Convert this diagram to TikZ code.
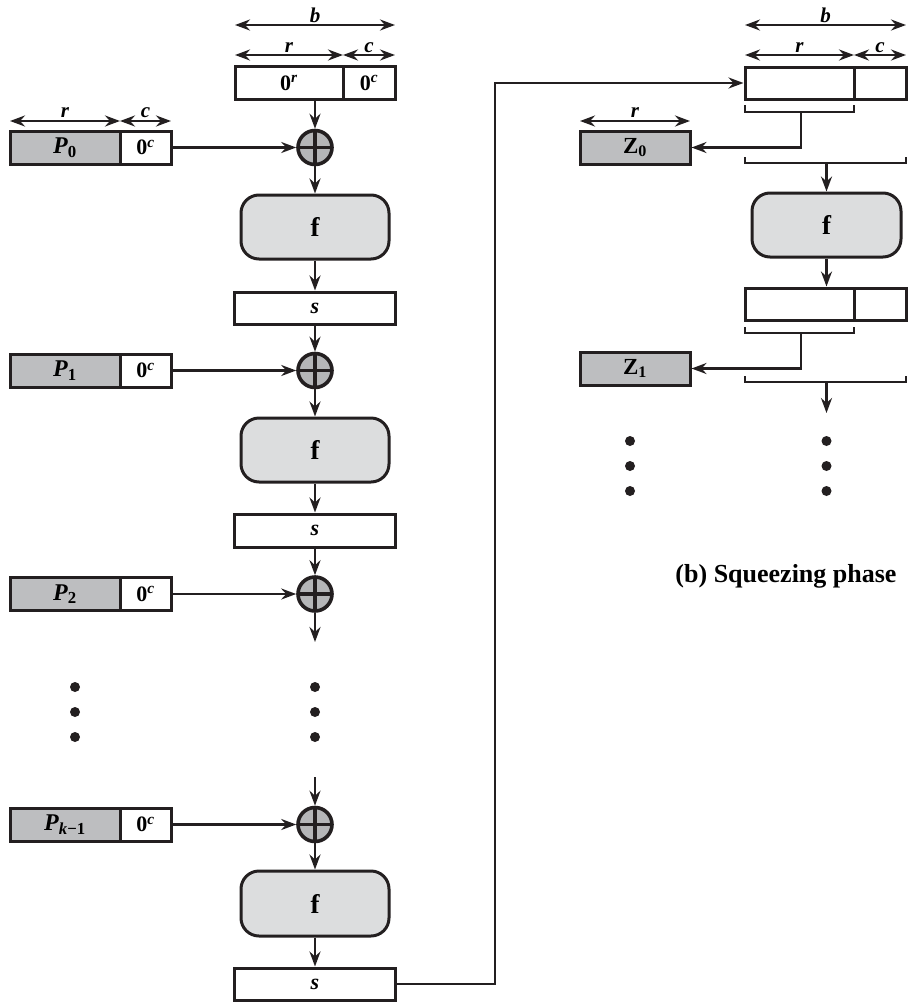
\documentclass[tikz,border=0pt]{standalone}
\usepackage{fontspec}
\setmainfont{Liberation Serif}
\usetikzlibrary{arrows.meta}
\definecolor{ink}{HTML}{231F20}
\definecolor{pgray}{HTML}{BDBEC0}
\definecolor{fgray}{HTML}{DCDDDE}
\definecolor{xgray}{HTML}{B5B6B8}
\tikzset{
 box/.style={draw=ink,line width=3pt,rectangle,inner sep=0pt,minimum height=33pt,font=\bfseries\fontsize{22}{22}\selectfont},
 pbox/.style={box,fill=pgray,font=\bfseries\fontsize{24}{24}\selectfont},
 fbox/.style={draw=ink,line width=3pt,fill=fgray,rounded corners=18pt,minimum width=148pt,minimum height=64pt,inner sep=0pt,font=\bfseries\fontsize{27}{27}\selectfont},
 xorn/.style={circle,draw=ink,line width=3.6pt,fill=xgray,minimum size=34pt,inner sep=0pt,
   path picture={\draw[ink,line width=3.4pt] (path picture bounding box.north) -- (path picture bounding box.south) (path picture bounding box.west) -- (path picture bounding box.east);}},
 tip/.tip={Stealth[length=15pt,width=11pt,inset=5pt]},
 arr/.style={draw=ink,line width=2.6pt,-tip},
 dimarr/.style={draw=ink,line width=2.6pt,tip-tip},
 dimlbl/.style={font=\bfseries\itshape\fontsize{21}{21}\selectfont,inner sep=0pt,anchor=base},
 ln/.style={draw=ink,line width=2.8pt},
 dotn/.style={circle,fill=ink,minimum size=10pt,inner sep=0pt},
}
\newcommand{\Pk}[1]{\textit{P}\textsubscript{#1}}
\newcommand{\zc}{0\textsuperscript{\textit{c}}}
\begin{document}
\begin{tikzpicture}[x=1pt,y=-1pt]
\useasboundingbox (0,0) rectangle (909,1002);
% ---------- left column ----------
\node[box,minimum width=108pt] (tr) at (289,83) {0\textsuperscript{\textit{r}}};
\node[box,minimum width=52pt] (tc) at (369,83) {\zc};
\draw[dimarr] (235,25) -- (395,25);
\node[dimlbl] (lb) at (315,22) {b};
\draw[dimarr] (235,55) -- (343,55);
\node[dimlbl] (lr) at (289,52) {r};
\draw[dimarr] (343,55) -- (395,55);
\node[dimlbl] (lc) at (369,52) {c};

\draw[dimarr] (10,121) -- (120,121);
\node[dimlbl] (plr) at (65,117) {r};
\draw[dimarr] (120,121) -- (171,121);
\node[dimlbl] (plc) at (145.5,117) {c};

\node[pbox,minimum width=110pt] (p0) at (65,147.5) {\Pk{0}};
\node[box,minimum width=51pt] (c0) at (145.5,147.5) {\zc};
\node[xorn] (x1) at (315,147.5) {};
\node[fbox] (f1) at (315,227) {f};
\node[box,minimum width=161pt,minimum height=32pt] (s1) at (315,308) {\textit{s}};

\node[pbox,minimum width=110pt] (p1) at (65,370.5) {\Pk{1}};
\node[box,minimum width=51pt] (c1) at (145.5,370.5) {\zc};
\node[xorn] (x2) at (315,370.5) {};
\node[fbox] (f2) at (315,450) {f};
\node[box,minimum width=161pt,minimum height=33pt] (s2) at (315,530.5) {\textit{s}};

\node[pbox,minimum width=110pt] (p2) at (65,594) {\Pk{2}};
\node[box,minimum width=51pt] (c2) at (145.5,594) {\zc};
\node[xorn] (x3) at (315,594) {};
\coordinate (x3end) at (315,642);

\foreach \yy/\nm in {687/a,712/b,737/c}{
  \node[dotn] (dl\nm) at (75,\yy) {};
  \node[dotn] (dm\nm) at (315,\yy) {};
}
\coordinate (x4start) at (315,777);
\node[pbox,minimum width=110pt] (pk) at (65,824.5) {\Pk{\textit{k}−1}};
\node[box,minimum width=51pt] (ck) at (145.5,824.5) {\zc};
\node[xorn] (x4) at (315,824.5) {};
\node[fbox,minimum height=65pt] (f3) at (315,903.5) {f};
\node[box,minimum width=161pt,minimum height=32pt] (s3) at (315,984) {\textit{s}};

\draw[arr] (x1 |- tr.south) -- (x1.north);
\draw[arr] (c0.east) -- (x1.west);
\draw[arr] (x1.south) -- (f1.north);
\draw[arr] (f1.south) -- (s1.north);
\draw[arr] (s1.south) -- (x2.north);
\draw[arr] (c1.east) -- (x2.west);
\draw[arr] (x2.south) -- (f2.north);
\draw[arr] (f2.south) -- (s2.north);
\draw[arr] (s2.south) -- (x3.north);
\draw[arr] (c2.east) -- (x3.west);
\draw[arr] (x3.south) -- (x3end);
\draw[arr] (x4start) -- (x4.north);
\draw[arr] (ck.east) -- (x4.west);
\draw[arr] (x4.south) -- (f3.north);
\draw[arr] (f3.south) -- (s3.north);

% ---------- right column ----------
\node[box,minimum width=109pt,minimum height=32pt] (rr) at (799.5,83) {};
\node[box,minimum width=52pt,minimum height=32pt] (rc) at (880,83) {};
\draw[arr] (s3.east) -- ++(98,0) |- (rr.west);

\draw[dimarr] (745,25) -- (906,25);
\node[dimlbl] (rb) at (825.5,22) {b};
\draw[dimarr] (745,55) -- (854,55);
\node[dimlbl] (rlr) at (799.5,52) {r};
\draw[dimarr] (854,55) -- (906,55);
\node[dimlbl] (rlc) at (880,52) {c};

\draw[dimarr] (580,121) -- (690,121);
\node[dimlbl] (zr) at (635,117) {r};
\node[pbox,minimum width=110pt,font=\bfseries\fontsize{23}{23}\selectfont] (z0) at (635,147.5) {Z\textsubscript{0}};

\draw[ln] (745,105) -- (745,112) -- (854,112) -- (854,105);
\coordinate (b1) at (801,112);
\draw[arr] (b1) |- (z0.east);
\draw[ln] (745,157) -- (745,163) -- (906,163) -- (906,157);
\coordinate (b2) at (826.5,163);
\node[fbox,minimum width=149pt] (rf) at (826.5,225) {f};
\draw[arr] (b2) -- (rf.north);

\node[box,minimum width=109pt,minimum height=32pt] (rr2) at (799.5,304) {};
\node[box,minimum width=52pt,minimum height=32pt] (rc2) at (880,304) {};
\draw[arr] (rf.south) -- (rf.south |- rr2.north);

\node[pbox,minimum width=110pt,font=\bfseries\fontsize{23}{23}\selectfont] (z1) at (635,368.5) {Z\textsubscript{1}};
\draw[ln] (745,327) -- (745,333) -- (854,333) -- (854,327);
\coordinate (b3) at (801,333);
\draw[arr] (b3) |- (z1.east);
\draw[ln] (745,376) -- (745,382) -- (906,382) -- (906,376);
\coordinate (b4) at (826.5,382);
\coordinate (b4end) at (826.5,413);
\draw[arr] (b4) -- (b4end);

\foreach \yy/\nm in {441/a,466/b,491/c}{
  \node[dotn] (rdl\nm) at (630,\yy) {};
  \node[dotn] (rdm\nm) at (826.5,\yy) {};
}

\node[font=\bfseries\fontsize{26}{26}\selectfont,inner sep=0pt] (cap) at (786,576) {(b) Squeezing phase};
\end{tikzpicture}
\end{document}
